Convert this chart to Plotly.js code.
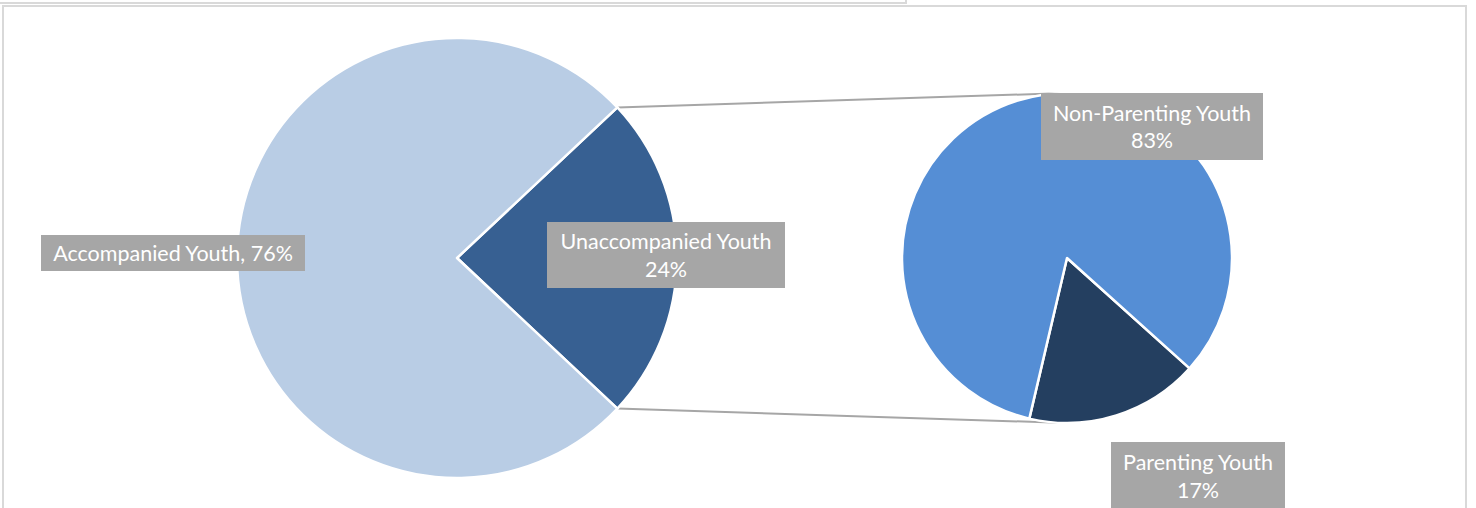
<!DOCTYPE html>
<html>
<head>
<meta charset="utf-8">
<script src="https://cdn.plot.ly/plotly-3.0.1.min.js"></script>
<style>html,body{margin:0;padding:0;background:#fff;}#chart{width:1476px;height:508px;}</style>
</head>
<body>
<div id="chart"></div>
<script>
// Data
var mainLabels = ["Unaccompanied Youth", "Accompanied Youth"];
var mainValues = [24, 76];
var mainColors = ["#376092", "#B9CDE5"];
var subLabels = ["Parenting Youth", "Non-Parenting Youth"];
var subValues = [17, 83];
var subColors = ["#243F60", "#558ED5"];
var labelTexts = ["Accompanied Youth, 76%", "Unaccompanied Youth<br>24%", "Non-Parenting Youth<br>83%", "Parenting Youth<br>17%"];

var W = 1476, H = 508;
// pie geometry (pixels)
var c1 = {x: 457, y: 258, r: 220};
var c2 = {x: 1067, y: 258, r: 165};
function dom(c) {
  return {x: [(c.x - c.r) / W, (c.x + c.r) / W], y: [1 - (c.y + c.r) / H, 1 - (c.y - c.r) / H]};
}
var rot1 = 90 - 180 * mainValues[0] / 100;   // centre the small slice at 3 o'clock
var rot2 = 132;

var traces = [
  {type: 'pie', labels: mainLabels, values: mainValues, sort: false, direction: 'clockwise',
   rotation: rot1, domain: dom(c1), textinfo: 'none', hoverinfo: 'label+percent',
   marker: {colors: mainColors, line: {color: '#ffffff', width: 2.5}}, showlegend: false},
  {type: 'pie', labels: subLabels, values: subValues, sort: false, direction: 'clockwise',
   rotation: rot2, domain: dom(c2), textinfo: 'none', hoverinfo: 'label+percent',
   marker: {colors: subColors, line: {color: '#ffffff', width: 2.5}}, showlegend: false}
];

function pt(c, deg) {
  var a = deg * Math.PI / 180;
  return {x: (c.x + c.r * Math.sin(a)) / W, y: 1 - (c.y - c.r * Math.cos(a)) / H};
}
var pA = pt(c1, rot1);
var pB = pt(c1, rot1 + 360 * mainValues[0] / 100);
var tA = {x: c2.x / W, y: 1 - (c2.y - c2.r) / H};
var tB = {x: c2.x / W, y: 1 - (c2.y + c2.r) / H};

var shapes = [
  {type: 'rect', xref: 'paper', yref: 'paper', x0: 3 / W, x1: 1466 / W, y0: -0.05, y1: 1 - 6 / H,
   line: {color: '#D9D9D9', width: 2}, layer: 'below'},
  {type: 'rect', xref: 'paper', yref: 'paper', x0: -0.05, x1: 906 / W, y0: 1 - 3 / H, y1: 1.05,
   line: {color: '#D9D9D9', width: 2}, layer: 'below'},
  {type: 'line', xref: 'paper', yref: 'paper', x0: pA.x, y0: pA.y, x1: tA.x, y1: tA.y,
   line: {color: '#A6A6A6', width: 2}, layer: 'below'},
  {type: 'line', xref: 'paper', yref: 'paper', x0: pB.x, y0: pB.y, x1: tB.x, y1: tB.y,
   line: {color: '#A6A6A6', width: 2}, layer: 'below'}
];

function ann(text, cx, cy, w, h) {
  return {text: text, xref: 'paper', yref: 'paper', x: cx / W, y: 1 - cy / H,
    xanchor: 'center', yanchor: 'middle', showarrow: false, width: w, height: h,
    bgcolor: '#A6A6A6', borderpad: 0, borderwidth: 0, align: 'center', valign: 'middle',
    font: {family: 'Lato, sans-serif', size: 21.5, color: '#ffffff'}};
}
var annotations = [
  ann(labelTexts[0], 173, 253, 264, 36),
  ann(labelTexts[1], 666, 255, 238, 66),
  ann(labelTexts[2], 1152, 126.5, 222, 67),
  ann(labelTexts[3], 1198, 476, 174, 68)
];

var layout = {width: W, height: H, margin: {l: 0, r: 0, t: 0, b: 0},
  paper_bgcolor: '#ffffff', showlegend: false, shapes: shapes, annotations: annotations,
  font: {family: 'Lato, sans-serif'}};

Plotly.newPlot('chart', traces, layout, {displayModeBar: false, staticPlot: true});
</script>
</body>
</html>
